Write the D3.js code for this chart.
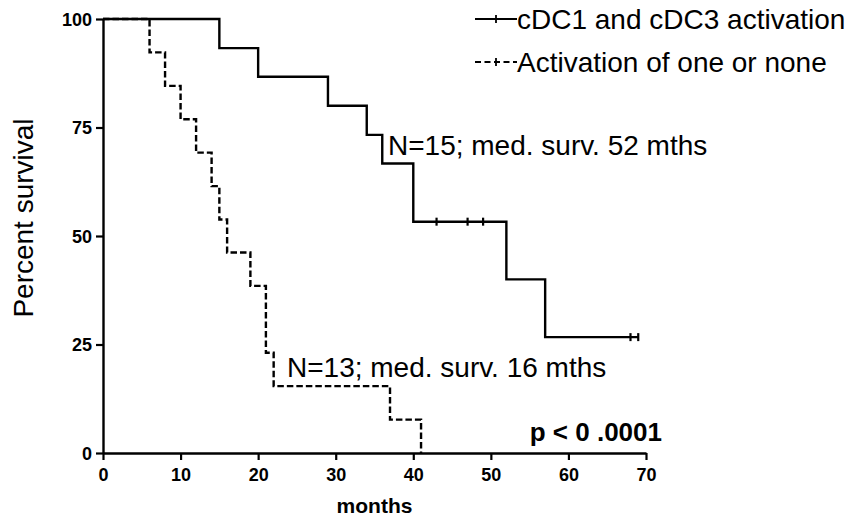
<!DOCTYPE html>
<html>
<head>
<meta charset="utf-8">
<script src="https://cdn.jsdelivr.net/npm/d3@7"></script>
<style>
  body { margin: 0; background: #fff; }
  text { font-family: Arial, "Liberation Sans", sans-serif; fill: #000; }
</style>
</head>
<body>
<div id="chart"></div>
<script>
// Kaplan-Meier data
var bothTimes = [0, 15, 20, 29, 34, 36, 40, 52, 57, 69];
var bothSurv = [100, 93.3, 86.7, 80, 73.3, 66.7, 53.3, 40, 26.7, 26.7];
var bothCensored = [43, 47, 49, 68, 69];

var noneTimes = [0, 6, 8, 10, 12, 14, 15, 16, 19, 21, 22, 37, 41];
var noneSurv = [100, 92.3, 84.6, 76.9, 69.2, 61.5, 53.8, 46.2, 38.5, 23.1, 15.4, 7.7, 0];

var xTicks = [0, 10, 20, 30, 40, 50, 60, 70];
var yTicks = [0, 25, 50, 75, 100];
var legendLabels = ["cDC1 and cDC3 activation", "Activation of one or none"];

var width = 850, height = 517;

var svg = d3.select("#chart").append("svg")
    .attr("width", width)
    .attr("height", height);

var x = d3.scaleLinear().domain([0, 70]).range([103, 646]);
var y = d3.scaleLinear().domain([0, 100]).range([453, 19]);

// axes
var xAxis = svg.append("g")
    .attr("transform", `translate(0,${y(0)})`)
    .call(d3.axisBottom(x).tickValues(xTicks).tickSize(7).tickSizeOuter(0).tickPadding(8));
var yAxis = svg.append("g")
    .attr("transform", `translate(${x(0)},0)`)
    .call(d3.axisLeft(y).tickValues(yTicks).tickSize(7).tickSizeOuter(0).tickPadding(4));

[xAxis, yAxis].forEach(function(ax){
    ax.select(".domain").attr("stroke", "#000").attr("stroke-width", 2.4);
    ax.selectAll(".tick line").attr("stroke", "#000").attr("stroke-width", 2.2);
    ax.selectAll(".tick text")
	.attr("fill", "#000")
	.style("font-family", "Arial, 'Liberation Sans', sans-serif")
	.style("font-weight", "bold")
	.style("font-size", "18px");
});
yAxis.selectAll(".tick text").attr("dy", "0.36em");

svg.append("text")
    .attr("x", (x(0) + x(70)) / 2)
    .attr("y", 513)
    .attr("text-anchor", "middle")
    .style("font-weight", "bold")
    .style("font-size", "21px")
    .text("months");

svg.append("text")
    .attr("transform", "translate(33,218) rotate(-90)")
    .attr("text-anchor", "middle")
    .style("font-size", "28px")
    .text("Percent survival");

// curves
var step = d3.line()
    .x(function(d){ return x(d[0]); })
    .y(function(d){ return y(d[1]); })
    .curve(d3.curveStepAfter);

var bothPts = d3.zip(bothTimes, bothSurv);
var nonePts = d3.zip(noneTimes, noneSurv);

svg.append("path")
    .datum(bothPts)
    .attr("d", step)
    .attr("fill", "none")
    .attr("stroke", "#000")
    .attr("stroke-width", 2.4);

svg.append("path")
    .datum(nonePts)
    .attr("d", step)
    .attr("fill", "none")
    .attr("stroke", "#000")
    .attr("stroke-width", 2.4)
    .attr("stroke-dasharray", "6.5,3");

// censor ticks sit on the level the curve has at that time
function survAt(t){
    var i = d3.bisectRight(bothTimes, t) - 1;
    return bothSurv[Math.max(i, 0)];
}
svg.selectAll("line.censor").data(bothCensored)
    .enter().append("line")
    .attr("class", "censor")
    .attr("x1", function(d){ return x(d); })
    .attr("x2", function(d){ return x(d); })
    .attr("y1", function(d){ return y(survAt(d)) - 4; })
    .attr("y2", function(d){ return y(survAt(d)) + 4; })
    .attr("stroke", "#000")
    .attr("stroke-width", 2.2);

// annotations
svg.append("text")
    .attr("x", 388).attr("y", 155)
    .style("font-size", "28px")
    .text("N=15; med. surv. 52 mths");
svg.append("text")
    .attr("x", 287).attr("y", 377)
    .style("font-size", "28px")
    .text("N=13; med. surv. 16 mths");
svg.append("text")
    .attr("x", 662).attr("y", 441)
    .attr("text-anchor", "end")
    .style("font-weight", "bold")
    .style("font-size", "26px")
    .text("p < 0 .0001");

// legend
var legend = svg.append("g").attr("class", "legend");
var rows = legend.selectAll("g").data(legendLabels)
    .enter().append("g")
    .attr("transform", function(d, i){ return `translate(475,${19 + i * 43})`; });
rows.append("line")
    .attr("x1", 0).attr("x2", 42)
    .attr("stroke", "#000")
    .attr("stroke-width", 2)
    .attr("stroke-dasharray", function(d, i){ return i ? "6,3.5" : null; });
rows.append("line")
    .attr("x1", 21).attr("x2", 21)
    .attr("y1", -4).attr("y2", 4)
    .attr("stroke", "#000")
    .attr("stroke-width", 1.8);
rows.append("text")
    .attr("x", 42).attr("y", 9.5)
    .style("font-size", "28px")
    .text(function(d){ return d; });
</script>
</body>
</html>
